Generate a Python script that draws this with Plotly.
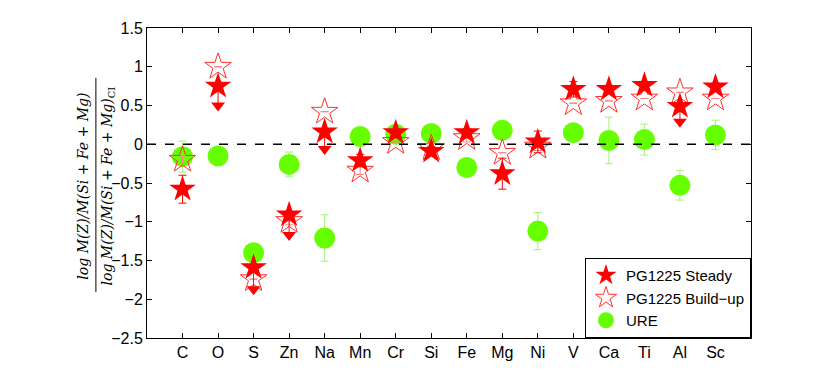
import plotly.graph_objects as go

# element ratios relative to CI chondrites
elements = ['C', 'O', 'S', 'Zn', 'Na', 'Mn', 'Cr', 'Si', 'Fe', 'Mg', 'Ni', 'V', 'Ca', 'Ti', 'Al', 'Sc']

steady = [-0.58, 0.75, -1.59, -0.91, 0.16, -0.21, 0.15, -0.09, 0.15, -0.38, 0.03, 0.71, 0.71, 0.76, 0.49, 0.74]
steady_err = [0.18, 0, 0, 0, 0, 0.08, 0, 0.06, 0.05, 0.2, 0.14, 0.1, 0.05, 0.05, 0, 0.05]
# upper limits: where the downward arrow head sits (None = no limit)
steady_limit = [None, 0.50, -1.87, -1.17, -0.06, None, None, None, None, None, None, None, None, None, 0.29, None]

buildup = [-0.20, 1.00, -1.74, -0.99, 0.42, -0.34, 0.03, -0.05, 0.08, -0.11, -0.03, 0.53, 0.56, 0.59, 0.67, 0.59]
buildup_err = [0.05, 0, 0, 0.05, 0, 0.05, 0, 0, 0.05, 0, 0.05, 0, 0, 0, 0, 0]

ure = [-0.16, -0.15, -1.40, -0.26, -1.21, 0.10, 0.13, 0.14, -0.30, 0.18, -1.12, 0.15, 0.05, 0.06, -0.53, 0.12]
ure_err = [0.2, 0, 0, 0.16, 0.3, 0, 0, 0, 0, 0, 0.24, 0, 0.3, 0.2, 0.19, 0.19]

xpos = list(range(1, len(elements) + 1))

fig = go.Figure()

# zero reference line
fig.add_shape(type='line', xref='paper', x0=0, x1=1, yref='y', y0=0, y1=0,
              line=dict(color='black', width=1.5, dash='dash'))

fig.add_trace(go.Scatter(
    x=xpos, y=ure, mode='markers', name='URE', legendrank=3,
    marker=dict(symbol='circle', size=21, color='#66ff00'),
    error_y=dict(type='data', array=ure_err, color='#a6f07a', thickness=1, width=4),
))

fig.add_trace(go.Scatter(
    x=xpos, y=buildup, mode='markers', name='PG1225 Build\u2212up', legendrank=2,
    marker=dict(symbol='star-open', size=20, color='#ff3030', line=dict(width=1, color='#ff3030')),
    error_y=dict(type='data', array=buildup_err, color='#ff8080', thickness=1, width=4),
))

fig.add_trace(go.Scatter(
    x=xpos, y=steady, mode='markers', name='PG1225 Steady', legendrank=1,
    marker=dict(symbol='star', size=20, color='#ff0000'),
    error_y=dict(type='data', array=steady_err, color='#ff0000', thickness=1, width=4),
))

# upper-limit arrows
lim_x = [x for x, l in zip(xpos, steady_limit) if l is not None]
lim_y = [l for l in steady_limit if l is not None]
lim_up = [s - l for s, l in zip(steady, steady_limit) if l is not None]
fig.add_trace(go.Scatter(
    x=lim_x, y=lim_y, mode='markers', showlegend=False,
    marker=dict(symbol='triangle-down', size=12, color='#ff0000'),
    error_y=dict(type='data', symmetric=False, array=lim_up, arrayminus=[0] * len(lim_up),
                 color='#ff0000', thickness=1, width=0),
))

# y-axis label as a fraction
lbl_font = dict(family='DejaVu Serif', size=14, color='black')
fig.add_annotation(xref='paper', yref='paper', x=-0.105, y=0.49, xanchor='center', yanchor='middle',
                   textangle=-90, showarrow=False,
                   text='<i>log M(Z)/M(Si + Fe + Mg)</i>', font=lbl_font)
fig.add_annotation(xref='paper', yref='paper', x=-0.064, y=0.49, xanchor='center', yanchor='middle',
                   textangle=-90, showarrow=False,
                   text='<i>log M(Z)/M(Si + Fe + Mg)</i><sub>CI</sub>', font=lbl_font)
fig.add_shape(type='line', xref='paper', yref='paper', x0=-0.0846, x1=-0.0846, y0=0.148, y1=0.839,
              line=dict(color='black', width=1))

fig.update_layout(
    width=822, height=373,
    margin=dict(l=139, r=79, t=20, b=43),
    paper_bgcolor='white', plot_bgcolor='white',
    font=dict(family='Liberation Sans, Arial, sans-serif', size=16, color='black'),
    showlegend=True,
    legend=dict(x=1, y=0, xanchor='right', yanchor='bottom', bgcolor='white',
                bordercolor='black', borderwidth=1, font=dict(size=15),
                tracegroupgap=0, itemsizing='trace', itemwidth=30),
    xaxis=dict(range=[0, 17], tickvals=xpos, ticktext=elements, ticks='inside', ticklen=5,
               showline=True, linecolor='black', linewidth=1, mirror='ticks', showgrid=False,
               zeroline=False, tickcolor='black'),
    yaxis=dict(range=[-2.5, 1.5], dtick=0.5, ticks='inside', ticklen=5,
               showline=True, linecolor='black', linewidth=1, mirror='ticks', showgrid=False,
               zeroline=False, tickcolor='black'),
)

fig.write_html("out.html")
